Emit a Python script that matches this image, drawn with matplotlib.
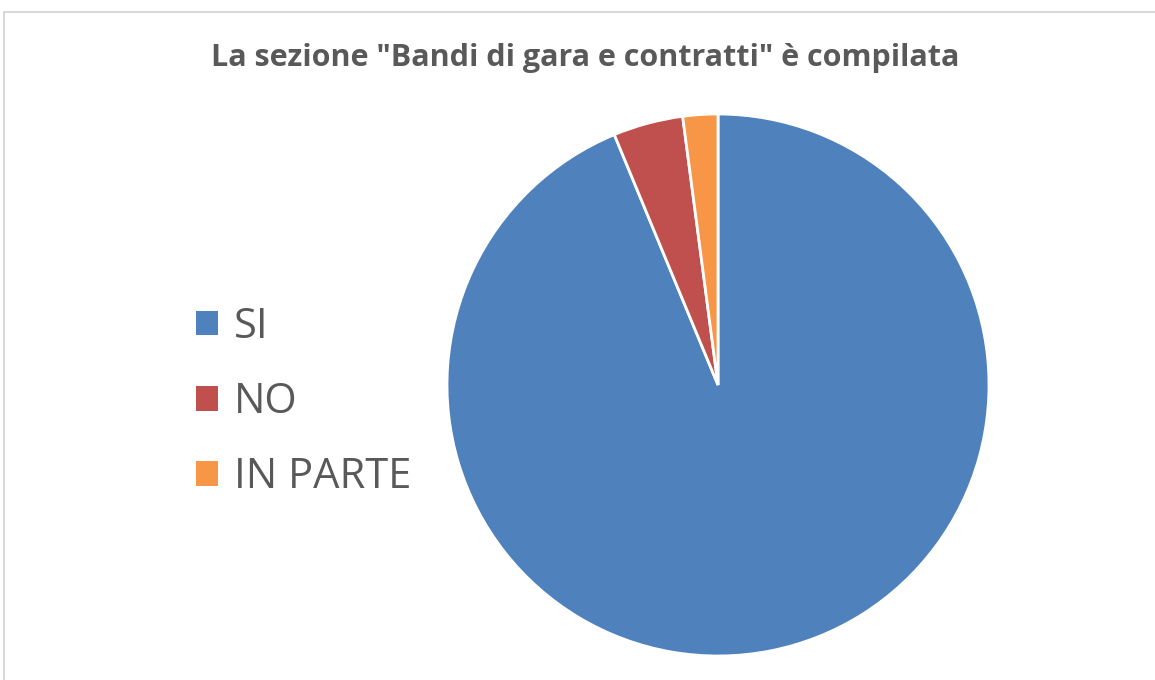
import matplotlib.pyplot as plt
from matplotlib.patches import Rectangle

labels = ["SI", "NO", "IN PARTE"]
counts = [45, 2, 1]
colors = ["#4F81BD", "#C0504D", "#F79646"]
title = 'La sezione "Bandi di gara e contratti" è compilata'

W, H = 1155, 680
fig = plt.figure(figsize=(W / 100, H / 100), dpi=100)
fig.patch.set_facecolor("white")

# chart area frame (right and bottom edges fall outside the image)
fig.add_artist(Rectangle((4 / W, -0.1), 1.2, (H - 12) / H + 0.1,
                         transform=fig.transFigure, fill=False,
                         edgecolor="#d9d9d9", linewidth=1.5))

cx, cy, r = 718, 385, 271
ax = fig.add_axes([(cx - r) / W, (H - cy - r) / H, 2 * r / W, 2 * r / H])
wedges, _ = ax.pie(counts, colors=colors, startangle=90, counterclock=False,
                   radius=1.0, wedgeprops=dict(edgecolor="white", linewidth=2))
ax.set_xlim(-1.0, 1.0)
ax.set_ylim(-1.0, 1.0)
ax.set_aspect("equal")
ax.axis("off")

fig.text(585 / W, 1 - 58 / H, title, ha="center", va="center",
         fontsize=22, fontweight="bold", color="#595959", family="Open Sans")

leg = fig.legend(wedges, labels, loc="center left",
                 bbox_to_anchor=(196 / W, 1 - 402 / H), frameon=False,
                 prop=dict(family="Open Sans", size=30), labelcolor="#595959",
                 handlelength=0.53, handleheight=0.53, handletextpad=0.38,
                 labelspacing=0.8, borderpad=0, borderaxespad=0)
for h in leg.legend_handles:
    h.set_edgecolor("none")

fig.savefig("out.png", dpi=100)
